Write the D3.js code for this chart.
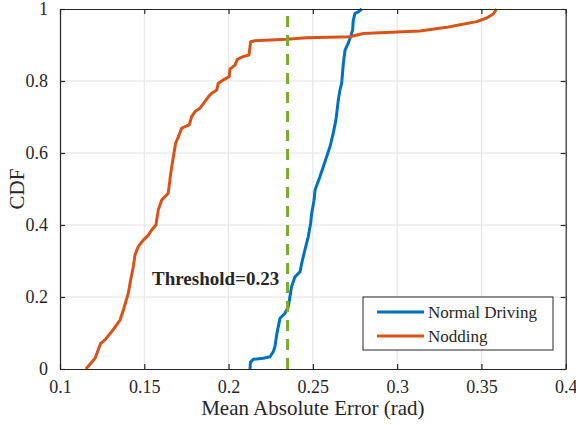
<!DOCTYPE html>
<html>
<head>
<meta charset="utf-8">
<script src="https://cdn.jsdelivr.net/npm/d3@7"></script>
<style>
  html, body { margin: 0; padding: 0; background: #fff; }
  svg { display: block; }
  text { font-family: "Liberation Serif", "Times New Roman", serif; fill: #262626; }
</style>
</head>
<body>
<div id="chart"></div>
<script>
// ---------- data ----------
const xTicks = [0.1, 0.15, 0.2, 0.25, 0.3, 0.35, 0.4];
const yTicks = [0, 0.2, 0.4, 0.6, 0.8, 1];
const xTickLabels = ["0.1", "0.15", "0.2", "0.25", "0.3", "0.35", "0.4"];
const yTickLabels = ["0", "0.2", "0.4", "0.6", "0.8", "1"];
const seriesNames = ["Normal Driving", "Nodding"];
const threshold = 0.235;
const thresholdLabel = "Threshold=0.23";

const normalX = [0.2127, 0.2130, 0.2147, 0.2206, 0.2246, 0.2265, 0.2275, 0.2285, 0.2305, 0.2335,
  0.2354, 0.2364, 0.2374, 0.2394, 0.2424, 0.2434, 0.2453, 0.2473, 0.2487, 0.2493, 0.2507,
  0.2513, 0.2542, 0.2562, 0.2582, 0.2602, 0.2621, 0.2637, 0.2651, 0.2661, 0.2671, 0.2681,
  0.2691, 0.2710, 0.2724, 0.2736, 0.2740, 0.2750, 0.2770, 0.2790];
const normalY = [0.0, 0.019, 0.027, 0.030, 0.034, 0.048, 0.062, 0.094, 0.141, 0.155,
  0.173, 0.201, 0.229, 0.256, 0.270, 0.294, 0.331, 0.368, 0.405, 0.432, 0.469,
  0.497, 0.534, 0.562, 0.590, 0.618, 0.655, 0.692, 0.747, 0.775, 0.794, 0.849,
  0.886, 0.905, 0.923, 0.942, 0.969, 0.988, 0.992, 1.0];

const noddingX = [0.1154, 0.1208, 0.1241, 0.1267, 0.1307, 0.1356, 0.1376, 0.1405, 0.1419, 0.1435,
  0.1445, 0.1464, 0.1494, 0.1524, 0.1544, 0.1569, 0.1583, 0.1603, 0.1642, 0.1657, 0.1666,
  0.1676, 0.1686, 0.1702, 0.1722, 0.1767, 0.1781, 0.1801, 0.1830, 0.1880, 0.1900, 0.1930,
  0.1939, 0.1969, 0.2004, 0.2008, 0.2038, 0.2052, 0.2087, 0.2121, 0.2131, 0.2157, 0.2345,
  0.2463, 0.2720, 0.2799, 0.3135, 0.3294, 0.3373, 0.3472, 0.3531, 0.3570, 0.3590];
const noddingY = [0.0, 0.030, 0.071, 0.081, 0.104, 0.136, 0.164, 0.210, 0.247, 0.284,
  0.317, 0.340, 0.358, 0.372, 0.386, 0.400, 0.442, 0.469, 0.488, 0.544, 0.571,
  0.599, 0.627, 0.645, 0.669, 0.678, 0.701, 0.715, 0.724, 0.756, 0.766, 0.775,
  0.794, 0.803, 0.812, 0.833, 0.844, 0.860, 0.868, 0.872, 0.909, 0.912, 0.916,
  0.920, 0.923, 0.932, 0.939, 0.949, 0.956, 0.965, 0.975, 0.986, 1.0];

// ---------- layout ----------
const W = 576, H = 425;
const margin = { left: 60, top: 9, right: 576 - 565.7, bottom: 425 - 369 };
const iw = W - margin.left - margin.right;
const ih = H - margin.top - margin.bottom;
const colors = ["#0072BD", "#D95319"];
const axisColor = "#262626";
const serif = '"Liberation Serif", "Times New Roman", serif';

const svg = d3.select("#chart").append("svg").attr("width", W).attr("height", H);
const g = svg.append("g").attr("transform", `translate(${margin.left},${margin.top})`);

const x = d3.scaleLinear().domain([0.1, 0.4]).range([0, iw]);
const y = d3.scaleLinear().domain([0, 1]).range([ih, 0]);

// grid
g.append("g").selectAll("line").data(xTicks.slice(1, -1)).join("line")
  .attr("x1", d => x(d)).attr("x2", d => x(d)).attr("y1", 0).attr("y2", ih)
  .attr("stroke", "#e3e3e3").attr("stroke-width", 1);
g.append("g").selectAll("line").data(yTicks.slice(1, -1)).join("line")
  .attr("y1", d => y(d)).attr("y2", d => y(d)).attr("x1", 0).attr("x2", iw)
  .attr("stroke", "#e3e3e3").attr("stroke-width", 1);

// axes (ticks inward, box)
const tickLen = 5;
const xAxis = d3.axisBottom(x).tickValues(xTicks).tickFormat((d, i) => xTickLabels[i])
  .tickSizeInner(-tickLen).tickSizeOuter(0).tickPadding(11);
const yAxis = d3.axisLeft(y).tickValues(yTicks).tickFormat((d, i) => yTickLabels[i])
  .tickSizeInner(-tickLen).tickSizeOuter(0).tickPadding(12);
const xTop = d3.axisTop(x).tickValues(xTicks).tickFormat("").tickSizeInner(-tickLen).tickSizeOuter(0);
const yRight = d3.axisRight(y).tickValues(yTicks).tickFormat("").tickSizeInner(-tickLen).tickSizeOuter(0);

function styleAxis(sel) {
  sel.attr("font-family", serif).attr("font-size", 18);
  sel.select(".domain").attr("stroke", axisColor).attr("stroke-width", 1.2);
  sel.selectAll(".tick line").attr("stroke", axisColor).attr("stroke-width", 1.2);
  sel.selectAll(".tick text").attr("fill", axisColor)
    .style("font-family", serif).style("font-size", "18px");
}

// data lines
const line = d3.line().x(d => x(d[0])).y(d => y(d[1]));
const normalData = normalX.map((v, i) => [v, normalY[i]]);
const noddingData = noddingX.map((v, i) => [v, noddingY[i]]);

g.append("path").datum(normalData).attr("d", line)
  .attr("fill", "none").attr("stroke", colors[0]).attr("stroke-width", 3)
  .attr("stroke-linejoin", "round");
g.append("path").datum(noddingData).attr("d", line)
  .attr("fill", "none").attr("stroke", colors[1]).attr("stroke-width", 3)
  .attr("stroke-linejoin", "round");

// threshold (dashed, drawn bottom to top)
g.append("line")
  .attr("x1", x(threshold)).attr("x2", x(threshold)).attr("y1", y(0)).attr("y2", y(1))
  .attr("stroke", "#77AC30").attr("stroke-width", 3).attr("stroke-dasharray", "11,8");

g.append("text").attr("x", 152 - margin.left).attr("y", 285 - margin.top)
  .style("font-weight", "bold").style("font-size", "19px").attr("fill", "#000")
  .text(thresholdLabel);

g.append("g").attr("transform", `translate(0,${ih})`).call(xAxis).call(styleAxis);
g.append("g").call(yAxis).call(styleAxis);
g.append("g").call(xTop).call(styleAxis);
g.append("g").attr("transform", `translate(${iw},0)`).call(yRight).call(styleAxis);

// axis labels
svg.append("text").attr("x", margin.left + iw / 2).attr("y", 415)
  .attr("text-anchor", "middle").style("font-size", "21px").attr("fill", axisColor)
  .text("Mean Absolute Error (rad)");
svg.append("text").attr("transform", `translate(24,${margin.top + ih / 2}) rotate(-90)`)
  .attr("text-anchor", "middle").style("font-size", "21px").attr("fill", axisColor)
  .text("CDF");

// legend
const lg = svg.append("g").attr("transform", "translate(363,297)");
lg.append("rect").attr("width", 190).attr("height", 53)
  .attr("fill", "#fff").attr("stroke", axisColor).attr("stroke-width", 1);
seriesNames.forEach((name, i) => {
  const yy = 15 + i * 24;
  lg.append("line").attr("x1", 14).attr("x2", 61).attr("y1", yy).attr("y2", yy)
    .attr("stroke", colors[i]).attr("stroke-width", 3);
  lg.append("text").attr("x", 65).attr("y", yy + 6).style("font-size", "17px")
    .attr("fill", "#000").text(name);
});
</script>
</body>
</html>
